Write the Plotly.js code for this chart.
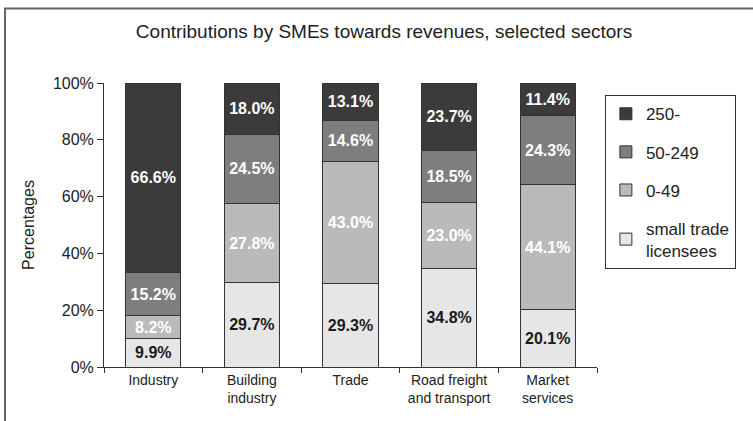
<!DOCTYPE html>
<html>
<head>
<meta charset="utf-8">
<script src="https://cdn.plot.ly/plotly-3.0.1.min.js"></script>
<style>
html,body{margin:0;padding:0;background:#fff;}
#chart{width:753px;height:421px;}
</style>
</head>
<body>
<div id="chart"></div>
<script>
var categories = ["Industry", "Building<br>industry", "Trade", "Road freight<br>and transport", "Market<br>services"];
var smallTrade = [9.9, 29.7, 29.3, 34.8, 20.1];
var size0to49 = [8.2, 27.8, 43.0, 23.0, 44.1];
var size50to249 = [15.2, 24.5, 14.6, 18.5, 24.3];
var size250 = [66.6, 18.0, 13.1, 23.7, 11.4];
var seriesNames = ["small trade<br>licensees", "0-49", "50-249", "250-"];
var yTicks = [0, 20, 40, 60, 80, 100];

var fills = ["#e6e6e6", "#bababa", "#7e7e7e", "#3b3b3b"];
var textColors = ["#1a1a1a", "#ffffff", "#ffffff", "#ffffff"];
var seriesValues = [smallTrade, size0to49, size50to249, size250];

var traces = seriesValues.map(function (vals, i) {
  return {
    type: "bar",
    name: seriesNames[i],
    x: categories,
    y: vals,
    legendgroup: "g" + i,
    legendrank: 10 - i,
    marker: {color: fills[i], line: {color: "#333", width: 1}},
    texttemplate: "%{y:.1f}%",
    textposition: "inside",
    insidetextanchor: "middle",
    textangle: 0,
    constraintext: "none",
    textfont: {family: "Liberation Sans, Arial, sans-serif", size: 16, color: textColors[i], weight: "bold"},
    hoverinfo: "skip"
  };
});

var layout = {
  width: 753,
  height: 421,
  barmode: "stack",
  bargap: 0.44,
  paper_bgcolor: "#fff",
  plot_bgcolor: "#fff",
  margin: {l: 104, r: 156, t: 83, b: 54, pad: 0},
  font: {family: "Liberation Sans, Arial, sans-serif", color: "#222"},
  title: {
    text: "Contributions by SMEs towards revenues, selected sectors",
    font: {size: 19, color: "#222"},
    x: 0.51, xanchor: "center", y: 0.925, yanchor: "middle"
  },
  xaxis: {
    type: "category",
    showline: true, linecolor: "#333", linewidth: 1,
    ticks: "outside", tickson: "boundaries", ticklen: 5, tickcolor: "#333",
    tickfont: {size: 14, color: "#222"},
    showgrid: false, zeroline: false
  },
  yaxis: {
    range: [0, 100],
    tickvals: yTicks,
    ticktext: yTicks.map(function (v) { return v + "%"; }),
    showline: true, linecolor: "#333", linewidth: 1,
    ticks: "outside", ticklen: 6, tickcolor: "#333",
    tickfont: {size: 16, color: "#222"},
    showgrid: false, zeroline: false,
    title: {text: "Percentages", font: {size: 16, color: "#222"}, standoff: 14}
  },
  legend: {
    x: 1.016, xanchor: "left",
    y: 0.957, yanchor: "top",
    traceorder: "grouped",
    tracegroupgap: 13,
    bordercolor: "#333", borderwidth: 1,
    font: {size: 17, color: "#222"},
    itemclick: false
  },
  shapes: [{
    type: "rect", xref: "paper", yref: "paper",
    x0: -0.2008, x1: 1.6, y0: -0.6, y1: 1.2627,
    line: {color: "#666", width: 2}, fillcolor: "rgba(0,0,0,0)", layer: "below"
  }]
};

Plotly.newPlot("chart", traces, layout, {staticPlot: true, displayModeBar: false});
</script>
</body>
</html>
